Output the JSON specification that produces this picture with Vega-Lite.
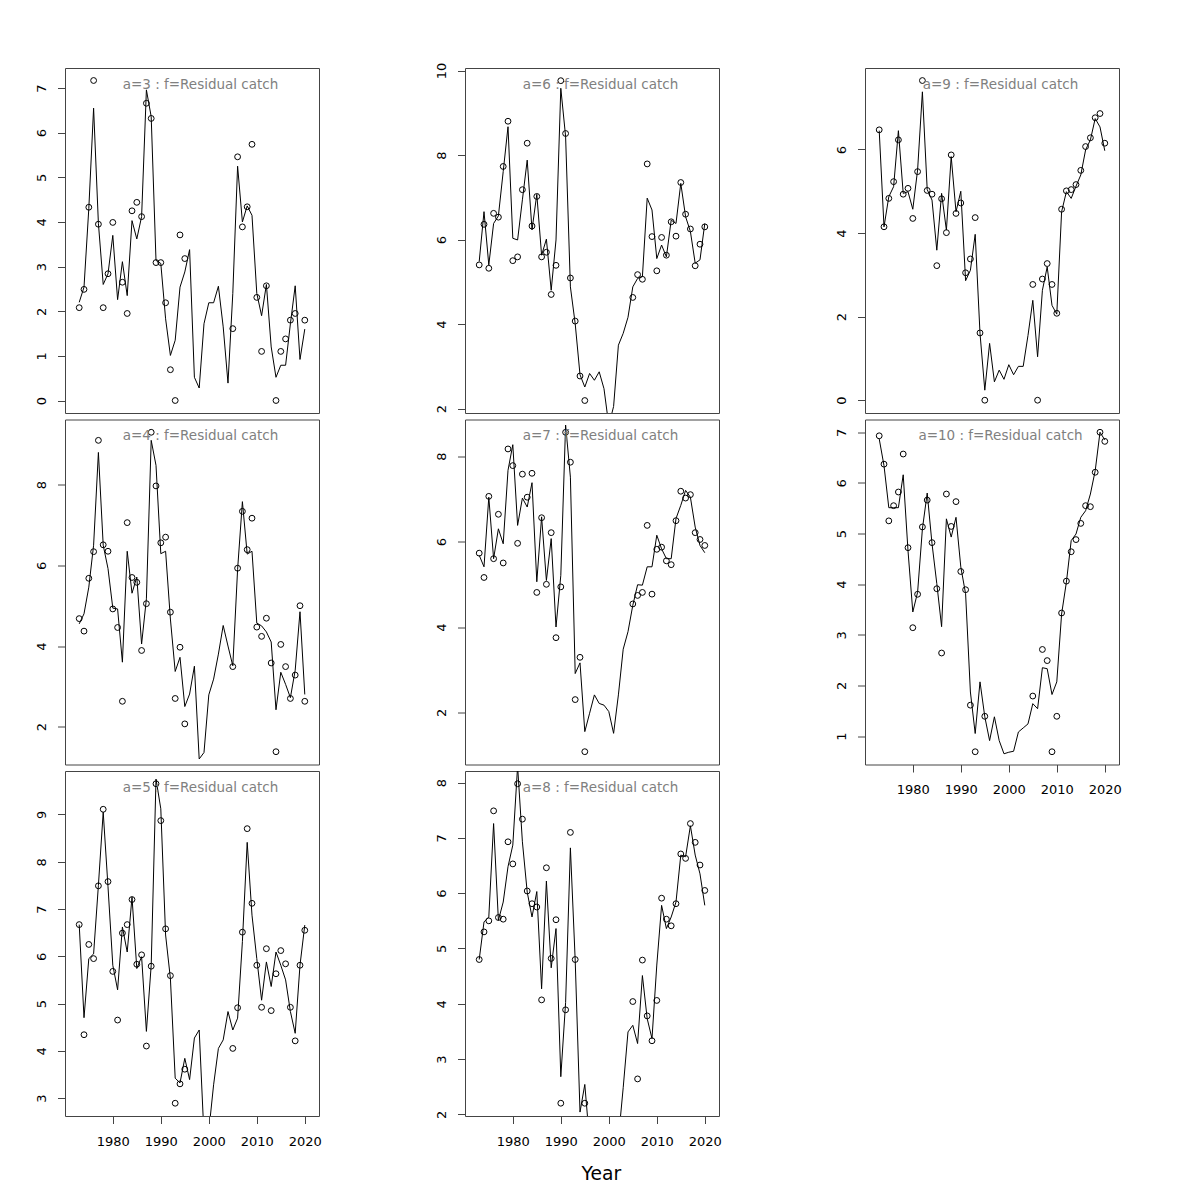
{
"$schema": "https://vega.github.io/schema/vega-lite/v6.json",
"padding": {"left": 35, "top": 61, "right": 5, "bottom": 5},
"datasets": {"d": [
{"a":3,"year":1973,"obs":2.08,"fit":2.2},{"a":3,"year":1974,"obs":2.49,"fit":2.54},{"a":3,"year":1975,"obs":4.33,"fit":4.3},{"a":3,"year":1976,"obs":7.17,"fit":6.55},{"a":3,"year":1977,"obs":3.95,"fit":3.97},{"a":3,"year":1978,"obs":2.08,"fit":2.6},{"a":3,"year":1979,"obs":2.84,"fit":2.84},{"a":3,"year":1980,"obs":3.99,"fit":3.7},{"a":3,"year":1981,"obs":null,"fit":2.26},{"a":3,"year":1982,"obs":2.65,"fit":3.11},{"a":3,"year":1983,"obs":1.95,"fit":2.35},{"a":3,"year":1984,"obs":4.25,"fit":4.03},{"a":3,"year":1985,"obs":4.44,"fit":3.62},{"a":3,"year":1986,"obs":4.12,"fit":4.12},{"a":3,"year":1987,"obs":6.66,"fit":6.96},{"a":3,"year":1988,"obs":6.32,"fit":6.36},{"a":3,"year":1989,"obs":3.09,"fit":3.14},{"a":3,"year":1990,"obs":3.09,"fit":3.07},{"a":3,"year":1991,"obs":2.19,"fit":1.83},{"a":3,"year":1992,"obs":0.69,"fit":1.01},{"a":3,"year":1993,"obs":0,"fit":1.35},{"a":3,"year":1994,"obs":3.71,"fit":2.54},{"a":3,"year":1995,"obs":3.18,"fit":2.88},{"a":3,"year":1996,"obs":null,"fit":3.38},{"a":3,"year":1997,"obs":null,"fit":0.52},{"a":3,"year":1998,"obs":null,"fit":0.28},{"a":3,"year":1999,"obs":null,"fit":1.72},{"a":3,"year":2000,"obs":null,"fit":2.19},{"a":3,"year":2001,"obs":null,"fit":2.19},{"a":3,"year":2002,"obs":null,"fit":2.56},{"a":3,"year":2003,"obs":null,"fit":1.65},{"a":3,"year":2004,"obs":null,"fit":0.39},{"a":3,"year":2005,"obs":1.61,"fit":2.4},{"a":3,"year":2006,"obs":5.46,"fit":5.25},{"a":3,"year":2007,"obs":3.89,"fit":4.0},{"a":3,"year":2008,"obs":4.34,"fit":4.36},{"a":3,"year":2009,"obs":5.74,"fit":4.15},{"a":3,"year":2010,"obs":2.31,"fit":2.4},{"a":3,"year":2011,"obs":1.10,"fit":1.9},{"a":3,"year":2012,"obs":2.57,"fit":2.6},{"a":3,"year":2013,"obs":null,"fit":1.2},{"a":3,"year":2014,"obs":0,"fit":0.52},{"a":3,"year":2015,"obs":1.10,"fit":0.79},{"a":3,"year":2016,"obs":1.38,"fit":0.79},{"a":3,"year":2017,"obs":1.80,"fit":1.72},{"a":3,"year":2018,"obs":1.95,"fit":2.57},{"a":3,"year":2019,"obs":null,"fit":0.92},{"a":3,"year":2020,"obs":1.80,"fit":1.6},
{"a":4,"year":1973,"obs":4.68,"fit":4.55},{"a":4,"year":1974,"obs":4.37,"fit":4.8},{"a":4,"year":1975,"obs":5.68,"fit":5.46},{"a":4,"year":1976,"obs":6.34,"fit":6.5},{"a":4,"year":1977,"obs":9.10,"fit":8.8},{"a":4,"year":1978,"obs":6.51,"fit":6.5},{"a":4,"year":1979,"obs":6.35,"fit":5.92},{"a":4,"year":1980,"obs":4.92,"fit":4.94},{"a":4,"year":1981,"obs":4.46,"fit":4.92},{"a":4,"year":1982,"obs":2.63,"fit":3.6},{"a":4,"year":1983,"obs":7.06,"fit":6.35},{"a":4,"year":1984,"obs":5.70,"fit":5.31},{"a":4,"year":1985,"obs":5.58,"fit":5.71},{"a":4,"year":1986,"obs":3.89,"fit":4.05},{"a":4,"year":1987,"obs":5.05,"fit":5.17},{"a":4,"year":1988,"obs":9.30,"fit":9.1},{"a":4,"year":1989,"obs":7.97,"fit":8.48},{"a":4,"year":1990,"obs":6.56,"fit":6.29},{"a":4,"year":1991,"obs":6.70,"fit":6.35},{"a":4,"year":1992,"obs":4.84,"fit":4.67},{"a":4,"year":1993,"obs":2.70,"fit":3.37},{"a":4,"year":1994,"obs":3.97,"fit":3.72},{"a":4,"year":1995,"obs":2.07,"fit":2.5},{"a":4,"year":1996,"obs":null,"fit":2.81},{"a":4,"year":1997,"obs":null,"fit":3.5},{"a":4,"year":1998,"obs":null,"fit":1.2},{"a":4,"year":1999,"obs":null,"fit":1.36},{"a":4,"year":2000,"obs":null,"fit":2.79},{"a":4,"year":2001,"obs":null,"fit":3.18},{"a":4,"year":2002,"obs":null,"fit":3.8},{"a":4,"year":2003,"obs":null,"fit":4.51},{"a":4,"year":2004,"obs":null,"fit":4.0},{"a":4,"year":2005,"obs":3.49,"fit":3.51},{"a":4,"year":2006,"obs":5.93,"fit":5.9},{"a":4,"year":2007,"obs":7.34,"fit":7.58},{"a":4,"year":2008,"obs":6.39,"fit":6.28},{"a":4,"year":2009,"obs":7.17,"fit":6.35},{"a":4,"year":2010,"obs":4.47,"fit":4.57},{"a":4,"year":2011,"obs":4.24,"fit":4.5},{"a":4,"year":2012,"obs":4.69,"fit":4.35},{"a":4,"year":2013,"obs":3.58,"fit":4.1},{"a":4,"year":2014,"obs":1.38,"fit":2.42},{"a":4,"year":2015,"obs":4.04,"fit":3.35},{"a":4,"year":2016,"obs":3.49,"fit":3.05},{"a":4,"year":2017,"obs":2.70,"fit":2.72},{"a":4,"year":2018,"obs":3.28,"fit":3.4},{"a":4,"year":2019,"obs":5.0,"fit":4.85},{"a":4,"year":2020,"obs":2.63,"fit":2.8},
{"a":5,"year":1973,"obs":6.67,"fit":6.67},{"a":5,"year":1974,"obs":4.34,"fit":4.7},{"a":5,"year":1975,"obs":6.25,"fit":5.95},{"a":5,"year":1976,"obs":5.95,"fit":6.05},{"a":5,"year":1977,"obs":7.49,"fit":7.5},{"a":5,"year":1978,"obs":9.11,"fit":9.05},{"a":5,"year":1979,"obs":7.58,"fit":7.47},{"a":5,"year":1980,"obs":5.68,"fit":5.81},{"a":5,"year":1981,"obs":4.65,"fit":5.29},{"a":5,"year":1982,"obs":6.49,"fit":6.62},{"a":5,"year":1983,"obs":6.67,"fit":6.09},{"a":5,"year":1984,"obs":7.20,"fit":7.25},{"a":5,"year":1985,"obs":5.83,"fit":5.74},{"a":5,"year":1986,"obs":6.03,"fit":5.99},{"a":5,"year":1987,"obs":4.10,"fit":4.41},{"a":5,"year":1988,"obs":5.79,"fit":5.81},{"a":5,"year":1989,"obs":9.65,"fit":9.75},{"a":5,"year":1990,"obs":8.87,"fit":9.12},{"a":5,"year":1991,"obs":6.58,"fit":6.45},{"a":5,"year":1992,"obs":5.59,"fit":5.53},{"a":5,"year":1993,"obs":2.89,"fit":3.42},{"a":5,"year":1994,"obs":3.30,"fit":3.32},{"a":5,"year":1995,"obs":3.61,"fit":3.84},{"a":5,"year":1996,"obs":null,"fit":3.39},{"a":5,"year":1997,"obs":null,"fit":4.27},{"a":5,"year":1998,"obs":null,"fit":4.44},{"a":5,"year":1999,"obs":null,"fit":2.2},{"a":5,"year":2000,"obs":null,"fit":2.3},{"a":5,"year":2001,"obs":null,"fit":3.28},{"a":5,"year":2002,"obs":null,"fit":4.05},{"a":5,"year":2003,"obs":null,"fit":4.23},{"a":5,"year":2004,"obs":null,"fit":4.83},{"a":5,"year":2005,"obs":4.05,"fit":4.44},{"a":5,"year":2006,"obs":4.91,"fit":4.69},{"a":5,"year":2007,"obs":6.51,"fit":6.31},{"a":5,"year":2008,"obs":8.70,"fit":8.41},{"a":5,"year":2009,"obs":7.12,"fit":6.87},{"a":5,"year":2010,"obs":5.81,"fit":5.95},{"a":5,"year":2011,"obs":4.92,"fit":5.07},{"a":5,"year":2012,"obs":6.16,"fit":5.88},{"a":5,"year":2013,"obs":4.85,"fit":5.36},{"a":5,"year":2014,"obs":5.63,"fit":6.09},{"a":5,"year":2015,"obs":6.12,"fit":5.81},{"a":5,"year":2016,"obs":5.84,"fit":5.5},{"a":5,"year":2017,"obs":4.92,"fit":4.83},{"a":5,"year":2018,"obs":4.21,"fit":4.37},{"a":5,"year":2019,"obs":5.81,"fit":5.81},{"a":5,"year":2020,"obs":6.55,"fit":6.66},
{"a":6,"year":1973,"obs":5.40,"fit":5.48},{"a":6,"year":1974,"obs":6.36,"fit":6.66},{"a":6,"year":1975,"obs":5.32,"fit":5.40},{"a":6,"year":1976,"obs":6.62,"fit":6.38},{"a":6,"year":1977,"obs":6.53,"fit":6.56},{"a":6,"year":1978,"obs":7.73,"fit":7.61},{"a":6,"year":1979,"obs":8.80,"fit":8.67},{"a":6,"year":1980,"obs":5.50,"fit":6.03},{"a":6,"year":1981,"obs":5.59,"fit":5.99},{"a":6,"year":1982,"obs":7.18,"fit":6.94},{"a":6,"year":1983,"obs":8.28,"fit":7.88},{"a":6,"year":1984,"obs":6.32,"fit":6.23},{"a":6,"year":1985,"obs":7.02,"fit":7.07},{"a":6,"year":1986,"obs":5.59,"fit":5.63},{"a":6,"year":1987,"obs":5.70,"fit":6.01},{"a":6,"year":1988,"obs":4.70,"fit":4.80},{"a":6,"year":1989,"obs":5.39,"fit":5.99},{"a":6,"year":1990,"obs":9.76,"fit":9.58},{"a":6,"year":1991,"obs":8.51,"fit":8.44},{"a":6,"year":1992,"obs":5.09,"fit":4.88},{"a":6,"year":1993,"obs":4.07,"fit":4.01},{"a":6,"year":1994,"obs":2.77,"fit":2.8},{"a":6,"year":1995,"obs":2.19,"fit":2.51},{"a":6,"year":1996,"obs":null,"fit":2.83},{"a":6,"year":1997,"obs":null,"fit":2.67},{"a":6,"year":1998,"obs":null,"fit":2.87},{"a":6,"year":1999,"obs":null,"fit":2.47},{"a":6,"year":2000,"obs":null,"fit":1.6},{"a":6,"year":2001,"obs":null,"fit":2.05},{"a":6,"year":2002,"obs":null,"fit":3.5},{"a":6,"year":2003,"obs":null,"fit":3.78},{"a":6,"year":2004,"obs":null,"fit":4.16},{"a":6,"year":2005,"obs":4.63,"fit":4.88},{"a":6,"year":2006,"obs":5.17,"fit":5.08},{"a":6,"year":2007,"obs":5.06,"fit":5.12},{"a":6,"year":2008,"obs":7.79,"fit":6.98},{"a":6,"year":2009,"obs":6.07,"fit":6.70},{"a":6,"year":2010,"obs":5.26,"fit":5.55},{"a":6,"year":2011,"obs":6.05,"fit":5.87},{"a":6,"year":2012,"obs":5.63,"fit":5.59},{"a":6,"year":2013,"obs":6.42,"fit":6.46},{"a":6,"year":2014,"obs":6.08,"fit":6.38},{"a":6,"year":2015,"obs":7.35,"fit":7.33},{"a":6,"year":2016,"obs":6.60,"fit":6.54},{"a":6,"year":2017,"obs":6.25,"fit":6.19},{"a":6,"year":2018,"obs":5.38,"fit":5.44},{"a":6,"year":2019,"obs":5.89,"fit":5.52},{"a":6,"year":2020,"obs":6.30,"fit":6.38},
{"a":7,"year":1973,"obs":5.73,"fit":5.68},{"a":7,"year":1974,"obs":5.16,"fit":5.41},{"a":7,"year":1975,"obs":7.06,"fit":7.04},{"a":7,"year":1976,"obs":5.60,"fit":5.60},{"a":7,"year":1977,"obs":6.64,"fit":6.30},{"a":7,"year":1978,"obs":5.50,"fit":5.95},{"a":7,"year":1979,"obs":8.17,"fit":7.67},{"a":7,"year":1980,"obs":7.78,"fit":8.27},{"a":7,"year":1981,"obs":5.96,"fit":6.38},{"a":7,"year":1982,"obs":7.58,"fit":7.02},{"a":7,"year":1983,"obs":7.04,"fit":6.81},{"a":7,"year":1984,"obs":7.60,"fit":7.38},{"a":7,"year":1985,"obs":4.81,"fit":5.06},{"a":7,"year":1986,"obs":6.56,"fit":6.58},{"a":7,"year":1987,"obs":5.0,"fit":5.09},{"a":7,"year":1988,"obs":6.21,"fit":6.07},{"a":7,"year":1989,"obs":3.75,"fit":4.0},{"a":7,"year":1990,"obs":4.94,"fit":5.21},{"a":7,"year":1991,"obs":8.56,"fit":8.73},{"a":7,"year":1992,"obs":7.86,"fit":7.51},{"a":7,"year":1993,"obs":2.30,"fit":2.91},{"a":7,"year":1994,"obs":3.29,"fit":3.16},{"a":7,"year":1995,"obs":1.08,"fit":1.55},{"a":7,"year":1996,"obs":null,"fit":1.98},{"a":7,"year":1997,"obs":null,"fit":2.41},{"a":7,"year":1998,"obs":null,"fit":2.21},{"a":7,"year":1999,"obs":null,"fit":2.17},{"a":7,"year":2000,"obs":null,"fit":2.02},{"a":7,"year":2001,"obs":null,"fit":1.51},{"a":7,"year":2002,"obs":null,"fit":2.41},{"a":7,"year":2003,"obs":null,"fit":3.48},{"a":7,"year":2004,"obs":null,"fit":3.89},{"a":7,"year":2005,"obs":4.54,"fit":4.51},{"a":7,"year":2006,"obs":4.74,"fit":4.99},{"a":7,"year":2007,"obs":4.81,"fit":4.98},{"a":7,"year":2008,"obs":6.38,"fit":5.41},{"a":7,"year":2009,"obs":4.77,"fit":5.41},{"a":7,"year":2010,"obs":5.82,"fit":6.15},{"a":7,"year":2011,"obs":5.87,"fit":5.83},{"a":7,"year":2012,"obs":5.55,"fit":5.60},{"a":7,"year":2013,"obs":5.46,"fit":5.60},{"a":7,"year":2014,"obs":6.49,"fit":6.54},{"a":7,"year":2015,"obs":7.18,"fit":6.85},{"a":7,"year":2016,"obs":7.02,"fit":7.20},{"a":7,"year":2017,"obs":7.10,"fit":7.04},{"a":7,"year":2018,"obs":6.21,"fit":6.34},{"a":7,"year":2019,"obs":6.05,"fit":5.91},{"a":7,"year":2020,"obs":5.91,"fit":5.74},
{"a":8,"year":1973,"obs":4.80,"fit":4.80},{"a":8,"year":1974,"obs":5.30,"fit":5.48},{"a":8,"year":1975,"obs":5.50,"fit":5.57},{"a":8,"year":1976,"obs":7.49,"fit":7.26},{"a":8,"year":1977,"obs":5.56,"fit":5.51},{"a":8,"year":1978,"obs":5.53,"fit":5.84},{"a":8,"year":1979,"obs":6.93,"fit":6.48},{"a":8,"year":1980,"obs":6.53,"fit":6.87},{"a":8,"year":1981,"obs":7.98,"fit":8.3},{"a":8,"year":1982,"obs":7.34,"fit":6.93},{"a":8,"year":1983,"obs":6.04,"fit":6.02},{"a":8,"year":1984,"obs":5.81,"fit":5.57},{"a":8,"year":1985,"obs":5.75,"fit":6.03},{"a":8,"year":1986,"obs":4.07,"fit":4.27},{"a":8,"year":1987,"obs":6.46,"fit":6.22},{"a":8,"year":1988,"obs":4.82,"fit":4.65},{"a":8,"year":1989,"obs":5.52,"fit":5.36},{"a":8,"year":1990,"obs":2.20,"fit":2.68},{"a":8,"year":1991,"obs":3.89,"fit":4.02},{"a":8,"year":1992,"obs":7.10,"fit":6.82},{"a":8,"year":1993,"obs":4.80,"fit":4.79},{"a":8,"year":1994,"obs":null,"fit":2.04},{"a":8,"year":1995,"obs":2.20,"fit":2.54},{"a":8,"year":1996,"obs":null,"fit":1.5},{"a":8,"year":1997,"obs":null,"fit":1.4},{"a":8,"year":1998,"obs":null,"fit":1.3},{"a":8,"year":1999,"obs":null,"fit":1.3},{"a":8,"year":2000,"obs":null,"fit":1.3},{"a":8,"year":2001,"obs":null,"fit":1.4},{"a":8,"year":2002,"obs":null,"fit":1.55},{"a":8,"year":2003,"obs":null,"fit":2.48},{"a":8,"year":2004,"obs":null,"fit":3.49},{"a":8,"year":2005,"obs":4.04,"fit":3.61},{"a":8,"year":2006,"obs":2.64,"fit":3.28},{"a":8,"year":2007,"obs":4.79,"fit":4.51},{"a":8,"year":2008,"obs":3.78,"fit":3.73},{"a":8,"year":2009,"obs":3.33,"fit":3.37},{"a":8,"year":2010,"obs":4.06,"fit":4.7},{"a":8,"year":2011,"obs":5.91,"fit":5.78},{"a":8,"year":2012,"obs":5.53,"fit":5.36},{"a":8,"year":2013,"obs":5.41,"fit":5.57},{"a":8,"year":2014,"obs":5.81,"fit":5.84},{"a":8,"year":2015,"obs":6.71,"fit":6.69},{"a":8,"year":2016,"obs":6.63,"fit":6.66},{"a":8,"year":2017,"obs":7.26,"fit":7.22},{"a":8,"year":2018,"obs":6.92,"fit":6.69},{"a":8,"year":2019,"obs":6.51,"fit":6.35},{"a":8,"year":2020,"obs":6.05,"fit":5.78},
{"a":9,"year":1973,"obs":6.47,"fit":6.45},{"a":9,"year":1974,"obs":4.15,"fit":4.15},{"a":9,"year":1975,"obs":4.83,"fit":4.87},{"a":9,"year":1976,"obs":5.23,"fit":5.11},{"a":9,"year":1977,"obs":6.23,"fit":6.45},{"a":9,"year":1978,"obs":4.93,"fit":4.95},{"a":9,"year":1979,"obs":5.07,"fit":4.99},{"a":9,"year":1980,"obs":4.35,"fit":4.57},{"a":9,"year":1981,"obs":5.47,"fit":5.51},{"a":9,"year":1982,"obs":7.65,"fit":7.38},{"a":9,"year":1983,"obs":5.02,"fit":5.04},{"a":9,"year":1984,"obs":4.93,"fit":4.79},{"a":9,"year":1985,"obs":3.22,"fit":3.59},{"a":9,"year":1986,"obs":4.82,"fit":4.95},{"a":9,"year":1987,"obs":4.01,"fit":4.07},{"a":9,"year":1988,"obs":5.87,"fit":5.83},{"a":9,"year":1989,"obs":4.47,"fit":4.51},{"a":9,"year":1990,"obs":4.72,"fit":5.0},{"a":9,"year":1991,"obs":3.05,"fit":2.86},{"a":9,"year":1992,"obs":3.38,"fit":3.11},{"a":9,"year":1993,"obs":4.37,"fit":3.97},{"a":9,"year":1994,"obs":1.61,"fit":1.6},{"a":9,"year":1995,"obs":0,"fit":0.24},{"a":9,"year":1996,"obs":null,"fit":1.36},{"a":9,"year":1997,"obs":null,"fit":0.44},{"a":9,"year":1998,"obs":null,"fit":0.72},{"a":9,"year":1999,"obs":null,"fit":0.5},{"a":9,"year":2000,"obs":null,"fit":0.85},{"a":9,"year":2001,"obs":null,"fit":0.61},{"a":9,"year":2002,"obs":null,"fit":0.81},{"a":9,"year":2003,"obs":null,"fit":0.81},{"a":9,"year":2004,"obs":null,"fit":1.55},{"a":9,"year":2005,"obs":2.77,"fit":2.39},{"a":9,"year":2006,"obs":0,"fit":1.04},{"a":9,"year":2007,"obs":2.90,"fit":2.63},{"a":9,"year":2008,"obs":3.27,"fit":3.19},{"a":9,"year":2009,"obs":2.77,"fit":2.27},{"a":9,"year":2010,"obs":2.08,"fit":2.06},{"a":9,"year":2011,"obs":4.57,"fit":4.51},{"a":9,"year":2012,"obs":5.01,"fit":4.99},{"a":9,"year":2013,"obs":5.04,"fit":4.83},{"a":9,"year":2014,"obs":5.16,"fit":5.12},{"a":9,"year":2015,"obs":5.50,"fit":5.39},{"a":9,"year":2016,"obs":6.07,"fit":5.99},{"a":9,"year":2017,"obs":6.28,"fit":6.23},{"a":9,"year":2018,"obs":6.76,"fit":6.74},{"a":9,"year":2019,"obs":6.86,"fit":6.54},{"a":9,"year":2020,"obs":6.15,"fit":5.97},
{"a":10,"year":1973,"obs":6.93,"fit":6.87},{"a":10,"year":1974,"obs":6.37,"fit":6.34},{"a":10,"year":1975,"obs":5.25,"fit":5.51},{"a":10,"year":1976,"obs":5.55,"fit":5.51},{"a":10,"year":1977,"obs":5.82,"fit":5.51},{"a":10,"year":1978,"obs":6.57,"fit":6.16},{"a":10,"year":1979,"obs":4.72,"fit":4.66},{"a":10,"year":1980,"obs":3.14,"fit":3.45},{"a":10,"year":1981,"obs":3.80,"fit":3.84},{"a":10,"year":1982,"obs":5.13,"fit":5.09},{"a":10,"year":1983,"obs":5.66,"fit":5.80},{"a":10,"year":1984,"obs":4.82,"fit":4.80},{"a":10,"year":1985,"obs":3.91,"fit":4.01},{"a":10,"year":1986,"obs":2.64,"fit":3.16},{"a":10,"year":1987,"obs":5.78,"fit":5.29},{"a":10,"year":1988,"obs":5.14,"fit":4.93},{"a":10,"year":1989,"obs":5.63,"fit":5.32},{"a":10,"year":1990,"obs":4.25,"fit":4.34},{"a":10,"year":1991,"obs":3.89,"fit":3.81},{"a":10,"year":1992,"obs":1.61,"fit":1.87},{"a":10,"year":1993,"obs":0.69,"fit":1.05},{"a":10,"year":1994,"obs":null,"fit":2.07},{"a":10,"year":1995,"obs":1.39,"fit":1.38},{"a":10,"year":1996,"obs":null,"fit":0.91},{"a":10,"year":1997,"obs":null,"fit":1.38},{"a":10,"year":1998,"obs":null,"fit":0.91},{"a":10,"year":1999,"obs":null,"fit":0.65},{"a":10,"year":2000,"obs":null,"fit":0.68},{"a":10,"year":2001,"obs":null,"fit":0.70},{"a":10,"year":2002,"obs":null,"fit":1.08},{"a":10,"year":2003,"obs":null,"fit":1.16},{"a":10,"year":2004,"obs":null,"fit":1.24},{"a":10,"year":2005,"obs":1.79,"fit":1.64},{"a":10,"year":2006,"obs":null,"fit":1.54},{"a":10,"year":2007,"obs":2.71,"fit":2.35},{"a":10,"year":2008,"obs":2.49,"fit":2.33},{"a":10,"year":2009,"obs":0.69,"fit":1.82},{"a":10,"year":2010,"obs":1.39,"fit":2.07},{"a":10,"year":2011,"obs":3.43,"fit":3.41},{"a":10,"year":2012,"obs":4.06,"fit":4.04},{"a":10,"year":2013,"obs":4.64,"fit":4.86},{"a":10,"year":2014,"obs":4.88,"fit":4.99},{"a":10,"year":2015,"obs":5.20,"fit":5.32},{"a":10,"year":2016,"obs":5.55,"fit":5.45},{"a":10,"year":2017,"obs":5.53,"fit":5.78},{"a":10,"year":2018,"obs":6.21,"fit":6.24},{"a":10,"year":2019,"obs":7.0,"fit":7.0},{"a":10,"year":2020,"obs":6.82,"fit":6.85}
]},
"data": {"name": "d"},
"columns": 3,
"bounds": "flush",
"spacing": {"row": 6.5, "column": 146},
"concat": [
{"width":254,"height":345,"transform":[{"filter":"datum.a==3"}],"title":{"text":"a=3 : f=Residual catch"},
 "encoding":{"x":{"field":"year","type":"quantitative","scale":{"domain":[1970.04,2022.96],"nice":false,"zero":false},"axis":null}},
 "layer":[
  {"mark":{"type":"line","clip":true,"color":"black","strokeWidth":1},"encoding":{"y":{"field":"fit","type":"quantitative","scale":{"domain":[-0.28,7.45],"nice":false,"zero":false},"axis":{"values":[0,1,2,3,4,5,6,7],"format":"d","title":null}}}},
  {"mark":{"type":"point","clip":true,"shape":"circle","filled":false,"color":"black","size":34,"strokeWidth":1,"opacity":1},"encoding":{"y":{"field":"obs","type":"quantitative"}}}
 ]},
{"width":254,"height":345,"transform":[{"filter":"datum.a==6"}],"title":{"text":"a=6 : f=Residual catch","offset":-29},
 "encoding":{"x":{"field":"year","type":"quantitative","scale":{"domain":[1970.04,2022.96],"nice":false,"zero":false},"axis":null}},
 "layer":[
  {"mark":{"type":"line","clip":true,"color":"black","strokeWidth":1},"encoding":{"y":{"field":"fit","type":"quantitative","scale":{"domain":[1.895,10.06],"nice":false,"zero":false},"axis":{"values":[2,4,6,8,10],"format":"d","title":null}}}},
  {"mark":{"type":"point","clip":true,"shape":"circle","filled":false,"color":"black","size":34,"strokeWidth":1,"opacity":1},"encoding":{"y":{"field":"obs","type":"quantitative"}}}
 ]},
{"width":254,"height":345,"transform":[{"filter":"datum.a==9"}],"title":{"text":"a=9 : f=Residual catch"},
 "encoding":{"x":{"field":"year","type":"quantitative","scale":{"domain":[1970.04,2022.96],"nice":false,"zero":false},"axis":null}},
 "layer":[
  {"mark":{"type":"line","clip":true,"color":"black","strokeWidth":1},"encoding":{"y":{"field":"fit","type":"quantitative","scale":{"domain":[-0.306,7.95],"nice":false,"zero":false},"axis":{"values":[0,2,4,6],"format":"d","title":null}}}},
  {"mark":{"type":"point","clip":true,"shape":"circle","filled":false,"color":"black","size":34,"strokeWidth":1,"opacity":1},"encoding":{"y":{"field":"obs","type":"quantitative"}}}
 ]},
{"width":254,"height":345,"transform":[{"filter":"datum.a==4"}],"title":{"text":"a=4 : f=Residual catch"},
 "encoding":{"x":{"field":"year","type":"quantitative","scale":{"domain":[1970.04,2022.96],"nice":false,"zero":false},"axis":null}},
 "layer":[
  {"mark":{"type":"line","clip":true,"color":"black","strokeWidth":1},"encoding":{"y":{"field":"fit","type":"quantitative","scale":{"domain":[1.063,9.617],"nice":false,"zero":false},"axis":{"values":[2,4,6,8],"format":"d","title":null}}}},
  {"mark":{"type":"point","clip":true,"shape":"circle","filled":false,"color":"black","size":34,"strokeWidth":1,"opacity":1},"encoding":{"y":{"field":"obs","type":"quantitative"}}}
 ]},
{"width":254,"height":345,"transform":[{"filter":"datum.a==7"}],"title":{"text":"a=7 : f=Residual catch"},
 "encoding":{"x":{"field":"year","type":"quantitative","scale":{"domain":[1970.04,2022.96],"nice":false,"zero":false},"axis":null}},
 "layer":[
  {"mark":{"type":"line","clip":true,"color":"black","strokeWidth":1},"encoding":{"y":{"field":"fit","type":"quantitative","scale":{"domain":[0.78,8.86],"nice":false,"zero":false},"axis":{"values":[2,4,6,8],"format":"d","title":null}}}},
  {"mark":{"type":"point","clip":true,"shape":"circle","filled":false,"color":"black","size":34,"strokeWidth":1,"opacity":1},"encoding":{"y":{"field":"obs","type":"quantitative"}}}
 ]},
{"width":254,"height":345,"transform":[{"filter":"datum.a==10"}],"title":{"text":"a=10 : f=Residual catch"},
 "encoding":{"x":{"field":"year","type":"quantitative","scale":{"domain":[1970.04,2022.96],"nice":false,"zero":false},"axis":{"values":[1980,1990,2000,2010,2020],"format":"d","title":null}}},
 "layer":[
  {"mark":{"type":"line","clip":true,"color":"black","strokeWidth":1},"encoding":{"y":{"field":"fit","type":"quantitative","scale":{"domain":[0.438,7.252],"nice":false,"zero":false},"axis":{"values":[1,2,3,4,5,6,7],"format":"d","title":null}}}},
  {"mark":{"type":"point","clip":true,"shape":"circle","filled":false,"color":"black","size":34,"strokeWidth":1,"opacity":1},"encoding":{"y":{"field":"obs","type":"quantitative"}}}
 ]},
{"width":254,"height":345,"transform":[{"filter":"datum.a==5"}],"title":{"text":"a=5 : f=Residual catch"},
 "encoding":{"x":{"field":"year","type":"quantitative","scale":{"domain":[1970.04,2022.96],"nice":false,"zero":false},"axis":{"values":[1980,1990,2000,2010,2020],"format":"d","title":null}}},
 "layer":[
  {"mark":{"type":"line","clip":true,"color":"black","strokeWidth":1},"encoding":{"y":{"field":"fit","type":"quantitative","scale":{"domain":[2.62,9.92],"nice":false,"zero":false},"axis":{"values":[3,4,5,6,7,8,9],"format":"d","title":null}}}},
  {"mark":{"type":"point","clip":true,"shape":"circle","filled":false,"color":"black","size":34,"strokeWidth":1,"opacity":1},"encoding":{"y":{"field":"obs","type":"quantitative"}}}
 ]},
{"width":254,"height":345,"transform":[{"filter":"datum.a==8"}],"title":{"text":"a=8 : f=Residual catch"},
 "encoding":{"x":{"field":"year","type":"quantitative","scale":{"domain":[1970.04,2022.96],"nice":false,"zero":false},"axis":{"values":[1980,1990,2000,2010,2020],"format":"d","title":"Year","titleFont":"DejaVu Sans","titleFontSize":18.7,"titleFontWeight":"normal","titleColor":"black","titleX":135.8,"titleY":63.5,"titleBaseline":"alphabetic","titleAlign":"center"}}},
 "layer":[
  {"mark":{"type":"line","clip":true,"color":"black","strokeWidth":1},"encoding":{"y":{"field":"fit","type":"quantitative","scale":{"domain":[1.969,8.211],"nice":false,"zero":false},"axis":{"values":[2,3,4,5,6,7,8],"format":"d","title":null}}}},
  {"mark":{"type":"point","clip":true,"shape":"circle","filled":false,"color":"black","size":34,"strokeWidth":1,"opacity":1},"encoding":{"y":{"field":"obs","type":"quantitative"}}}
 ]}
],
"config": {
 "background": "white",
 "view": {"stroke": "#444444", "strokeWidth": 1},
 "axis": {"domain": false, "grid": false, "ticks": true, "tickColor": "#444444", "tickSize": 7.5, "tickWidth": 1, "labelFont": "DejaVu Sans", "labelFontSize": 13, "labelColor": "black", "labelOverlap": false, "labelFlush": false},
 "axisY": {"labelAngle": -90, "labelAlign": "center", "labelBaseline": "alphabetic", "labelPadding": 12},
 "axisX": {"labelAngle": 0, "labelPadding": 11.5},
 "title": {"font": "DejaVu Sans", "fontSize": 13.5, "fontWeight": "normal", "color": "#808080", "anchor": "middle", "frame": "group", "offset": -23, "baseline": "alphabetic", "dx": 8.5}
}
}
